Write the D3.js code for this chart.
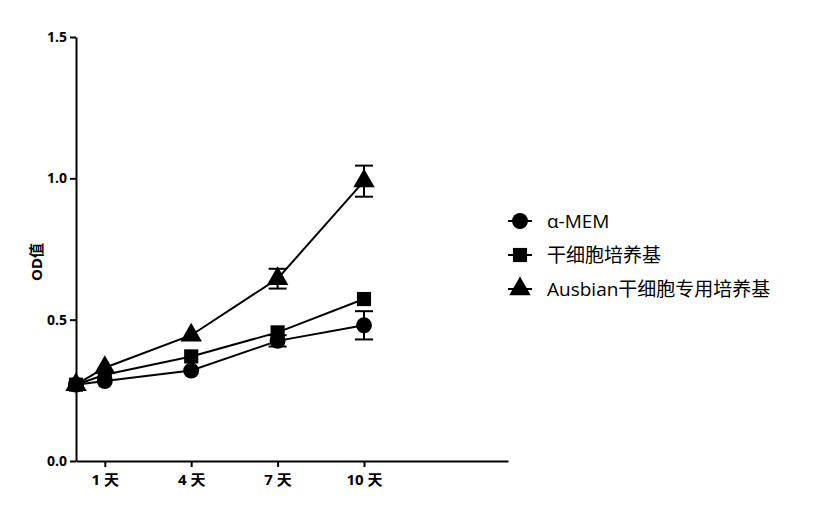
<!DOCTYPE html>
<html><head><meta charset="utf-8">
<script src="https://cdn.jsdelivr.net/npm/d3@7"></script>
<style>body{margin:0;background:#fff}text{font-family:"Open Sans","Noto Sans CJK SC",sans-serif}</style>
</head><body>
<script>
var days = [0, 1, 4, 7, 10];
var tickDays = [1, 4, 7, 10];
var tickLabels = ["1 天", "4 天", "7 天", "10 天"];
var seriesNames = ["α-MEM", "干细胞培养基", "Ausbian干细胞专用培养基"];
var alphaMem = [0.27, 0.283, 0.32, 0.425, 0.48];
var alphaMemErr = [0, 0.01, 0.01, 0.02, 0.05];
var stemMedium = [0.27, 0.305, 0.37, 0.455, 0.573];
var stemMediumErr = [0, 0.01, 0.01, 0.01, 0.01];
var ausbian = [0.27, 0.33, 0.445, 0.645, 0.99];
var ausbianErr = [0, 0.01, 0.01, 0.035, 0.055];
var yTicks = [0, 0.5, 1.0, 1.5];

var allSeries = [
    { name: seriesNames[2], values: ausbian, err: ausbianErr, sym: d3.symbolTriangle },
    { name: seriesNames[0], values: alphaMem, err: alphaMemErr, sym: d3.symbolCircle },
    { name: seriesNames[1], values: stemMedium, err: stemMediumErr, sym: d3.symbolSquare }
];
var legendOrder = [1, 2, 0];

var svg = d3.select("body").append("svg").attr("width", 834).attr("height", 505);
var x = d3.scaleLinear().domain([0, 15]).range([76, 508]);
var y = d3.scaleLinear().domain([0, 1.5]).range([461, 37]);

var yAxis = svg.append("g").attr("transform", "translate(76,0)")
    .call(d3.axisLeft(y).tickValues(yTicks).tickFormat(d3.format(".1f")).tickSize(6).tickSizeOuter(0));
yAxis.select(".domain").attr("stroke-width", 2);
yAxis.selectAll(".tick line").attr("stroke-width", 2);
yAxis.selectAll("text").style("font-size", "14px").style("font-weight", "bold").attr("fill", "#000");

var xAxis = svg.append("g").attr("transform", "translate(0,461)")
    .call(d3.axisBottom(x).tickValues(tickDays).tickFormat((d, i) => tickLabels[i]).tickSize(6).tickSizeOuter(0));
xAxis.select(".domain").attr("stroke-width", 2);
xAxis.selectAll(".tick line").attr("stroke-width", 2);
xAxis.selectAll("text").style("font-size", "15px").style("font-weight", "bold").attr("fill", "#000").attr("dy", "1em");

svg.append("text").attr("transform", "translate(42,262) rotate(-90)").attr("text-anchor", "middle")
    .style("font-size", "15px").style("font-weight", "bold").text("OD值");

var line = d3.line().x((d, i) => x(days[i])).y(d => y(d));
for (var s of allSeries) {
    svg.append("path").datum(s.values).attr("fill", "none").attr("stroke", "#000").attr("stroke-width", 2).attr("d", line);
    s.values.forEach(function (v, i) {
        if (s.err[i] > 0.015) {
            var g = svg.append("g").attr("stroke", "#000").attr("stroke-width", 2);
            g.append("line").attr("x1", x(days[i])).attr("x2", x(days[i])).attr("y1", y(v - s.err[i])).attr("y2", y(v + s.err[i]));
            g.append("line").attr("x1", x(days[i]) - 9).attr("x2", x(days[i]) + 9).attr("y1", y(v + s.err[i])).attr("y2", y(v + s.err[i]));
            g.append("line").attr("x1", x(days[i]) - 9).attr("x2", x(days[i]) + 9).attr("y1", y(v - s.err[i])).attr("y2", y(v - s.err[i]));
        }
        svg.append("path").attr("d", d3.symbol().type(s.sym).size(200)())
            .attr("transform", "translate(" + x(days[i]) + "," + y(v) + ")").attr("fill", "#000");
    });
}

legendOrder.forEach(function (k, i) {
    var s = allSeries[k];
    var ly = 221 + i * 34;
    svg.append("line").attr("x1", 508).attr("x2", 532).attr("y1", ly).attr("y2", ly).attr("stroke", "#000").attr("stroke-width", 2);
    svg.append("path").attr("d", d3.symbol().type(s.sym).size(200)()).attr("transform", "translate(520," + ly + ")");
    svg.append("text").attr("x", 547).attr("y", ly + 7).style("font-size", "19px").text(s.name);
});
</script>
</body></html>
